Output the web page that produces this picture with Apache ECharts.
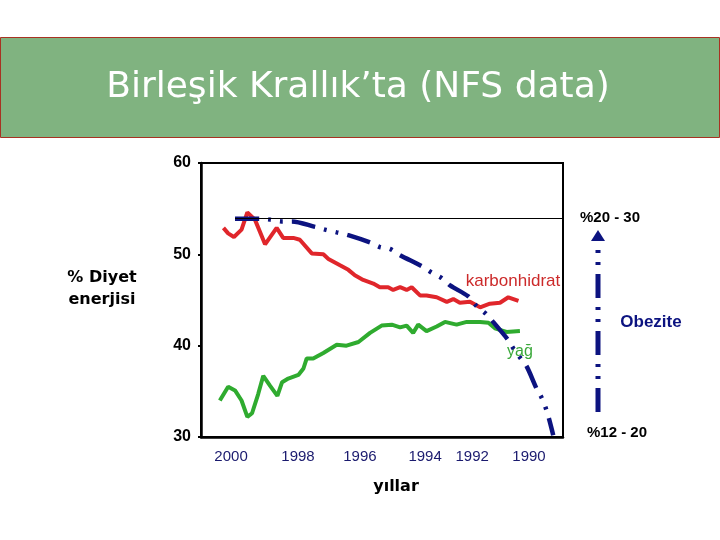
<!DOCTYPE html>
<html>
<head>
<meta charset="utf-8">
<script src="https://cdn.jsdelivr.net/npm/echarts@6/dist/echarts.min.js"></script>
<style>html,body{margin:0;padding:0;background:#fff}#c{width:720px;height:540px}</style>
</head>
<body>
<div id="c"></div>
<script>
// x: position along the (irregular) year axis, 0..100 scale
const carbX = [6.2,7.5,9.1,11.2,12.8,14.9,17.7,20.9,22.7,25.5,27.3,30.6,33.8,35.2,38.4,40.7,42.5,44.8,47.6,49.4,51.7,53.1,55.0,56.8,58.2,60.5,62.3,65.1,67.9,69.7,71.5,74.3,77.1,79.8,82.6,84.9,87.7];
const carbY = [52.9,52.3,51.9,52.7,54.6,53.8,51.1,52.9,51.8,51.8,51.6,50.1,50.0,49.5,48.8,48.3,47.7,47.2,46.8,46.4,46.4,46.1,46.4,46.1,46.4,45.5,45.5,45.3,44.8,45.1,44.7,44.8,44.2,44.6,44.7,45.3,44.9];
const fatX = [5.2,7.5,9.4,11.2,12.8,14.1,15.8,17.2,19.1,21.1,22.4,24.1,26.9,28.3,29.2,31.0,33.8,37.5,40.2,43.5,46.7,49.9,52.7,55.0,56.8,58.6,60.0,62.3,65.1,67.4,70.6,73.4,77.1,79.4,81.2,84.4,88.1];
const fatY = [34.0,35.5,35.1,34.0,32.2,32.6,34.7,36.7,35.6,34.5,36.0,36.4,36.8,37.5,38.6,38.6,39.2,40.1,40.0,40.4,41.4,42.2,42.3,42.0,42.2,41.4,42.3,41.6,42.1,42.6,42.3,42.6,42.6,42.5,41.9,41.5,41.6];
const obX = [9.4,16.3,19.1,22.3,25.1,31.5,34.3,37.5,40.7,46.7,49.4,52.2,55.0,61.0,63.7,66.5,68.8,73.8,76.2,78.7,80.7,84.9,86.3,88.3,90.0,92.7,94.1,95.3,96.2,97.3];
const obY = [53.9,53.9,53.8,53.6,53.6,53.0,52.7,52.4,52.1,51.3,50.8,50.6,49.9,48.7,48.0,47.4,46.6,45.4,44.3,43.5,42.6,40.6,39.7,38.6,37.7,35.3,34.3,33.1,31.9,30.2];
const refLevel = 53.9;
const refStartX = 9.4;
const yearLabels = ['2000','1998','1996','1994','1992','1990'];
const yearPos = [8.3,26.8,43.9,61.9,74.9,90.6];
const yTicks = [30,40,50,60];

const zip = (a,b) => a.map((v,i)=>[v,b[i]]);
const chart = echarts.init(document.getElementById('c'));
const navy = '#0c1380';
chart.setOption({
  animation:false,
  backgroundColor:'#fff',
  grid:{left:201, top:163, width:362, height:274, show:true, borderColor:'#000', borderWidth:2, backgroundColor:'transparent'},
  xAxis:{type:'value', min:0, max:100,
    axisLine:{show:true, lineStyle:{color:'#000', width:2.5}},
    axisTick:{show:false},
    splitLine:{show:false},
    axisLabel:{customValues:yearPos, margin:12, color:'#1a1a6e', fontSize:15, fontFamily:'Liberation Sans, Arial, sans-serif',
      formatter:(v)=>{let best=-1,d=1e9;yearPos.forEach((p,i)=>{if(Math.abs(p-v)<d){d=Math.abs(p-v);best=i;}});return d<0.5?yearLabels[best]:'';}}
  },
  yAxis:{type:'value', min:30, max:60, interval:10,
    axisLine:{show:true, lineStyle:{color:'#000', width:2.5}},
    axisTick:{show:true, length:3, lineStyle:{color:'#000', width:2}},
    splitLine:{show:false},
    axisLabel:{margin:10, color:'#000', fontSize:16, fontWeight:'bold', fontFamily:'Liberation Sans, Arial, sans-serif',
      formatter:(v)=>yTicks.includes(v)?String(v):''}
  },
  series:[
    {type:'line', name:'karbonhidrat', data:zip(carbX,carbY), showSymbol:false, lineStyle:{color:'#e0262b', width:4}, z:3},
    {type:'line', name:'yağ', data:zip(fatX,fatY), showSymbol:false, lineStyle:{color:'#2fab2f', width:4}, z:3},
    {type:'line', name:'obezite', data:zip(obX,obY), showSymbol:false, smooth:0.3,
      lineStyle:{color:navy, width:4.5, type:[24,9,3,9,3,9], cap:'butt'}, z:4,
      markLine:{silent:true, symbol:['none','none'], label:{show:false},
        lineStyle:{color:'#000', width:1, type:'solid'},
        data:[[{coord:[refStartX,refLevel]},{coord:[100,refLevel]}]]}}
  ],
  graphic:[
    {type:'rect', shape:{x:0.5,y:37.5,width:719,height:100}, style:{fill:'#80b380', stroke:'#a83222', lineWidth:1}, z:0},
    {type:'text', x:358, y:88, style:{text:'Birleşik Krallık’ta (NFS data)', fill:'#fff', font:'36px "DejaVu Sans", sans-serif', textAlign:'center', textVerticalAlign:'middle'}},
    {type:'text', x:102, y:278, style:{text:'% Diyet', fill:'#000', font:'bold 16px "DejaVu Sans", sans-serif', textAlign:'center', textVerticalAlign:'middle'}},
    {type:'text', x:102, y:300, style:{text:'enerjisi', fill:'#000', font:'bold 16px "DejaVu Sans", sans-serif', textAlign:'center', textVerticalAlign:'middle'}},
    {type:'text', x:396, y:487, style:{text:'yıllar', fill:'#000', font:'bold 16px "DejaVu Sans", sans-serif', textAlign:'center', textVerticalAlign:'middle'}},
    {type:'text', x:513, y:281, style:{text:'karbonhidrat', fill:'#cc2a2a', font:'17px "Liberation Sans", Arial, sans-serif', textAlign:'center', textVerticalAlign:'middle'}},
    {type:'text', x:520, y:352, style:{text:'yağ', fill:'#3aa83a', font:'16px "Liberation Sans", Arial, sans-serif', textAlign:'center', textVerticalAlign:'middle'}},
    {type:'text', x:651, y:322, style:{text:'Obezite', fill:navy, font:'bold 17px "Liberation Sans", Arial, sans-serif', textAlign:'center', textVerticalAlign:'middle'}},
    {type:'text', x:610, y:218, style:{text:'%20 - 30', fill:'#000', font:'bold 15px "Liberation Sans", Arial, sans-serif', textAlign:'center', textVerticalAlign:'middle'}},
    {type:'text', x:617, y:433, style:{text:'%12 - 20', fill:'#000', font:'bold 15px "Liberation Sans", Arial, sans-serif', textAlign:'center', textVerticalAlign:'middle'}},
    {type:'line', shape:{x1:598,y1:412,x2:598,y2:241}, style:{stroke:navy, lineWidth:5, lineDash:[24,9,3,9,3,9], lineCap:'butt'}},
    {type:'polygon', shape:{points:[[591,241],[605,241],[598,230]]}, style:{fill:navy}}
  ]
});
</script>
</body>
</html>
